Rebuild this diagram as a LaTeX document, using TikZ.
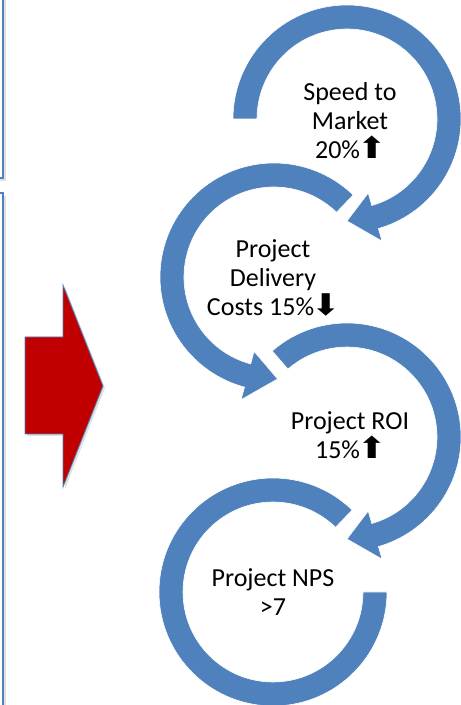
\documentclass[tikz,border=0pt]{standalone}
\usepackage{fontspec}
\setmainfont{Carlito}
\newfontfamily\arrowfont{DejaVu Sans}
\definecolor{cycleblue}{HTML}{4F81BD}
\definecolor{arrowred}{HTML}{C00000}
\newcommand{\trendup}{\kern-2.5pt\scalebox{1.35}[1.15]{\arrowfont ⬆}\kern-2pt}
\newcommand{\trenddown}{\kern-2.5pt\scalebox{1.35}[1.15]{\arrowfont ⬇}\kern-2pt}

\begin{document}
\begin{tikzpicture}[x=1pt, y=1pt,
  ringband/.style = {fill=cycleblue, draw=white, line width=0.6pt},
  ringtext/.style = {align=center, font=\fontsize{26}{29}\selectfont, inner sep=0pt},
  sidebox/.style = {draw=cycleblue, line width=1.6pt, fill=white},
  boxshadow/.style = {fill=black!12, draw=none}]
  \clip (0,0) rectangle (461,705);

  %%% left panels %%%
  % shadows
  \fill[boxshadow] (-50,524) rectangle (6,760);
  \fill[boxshadow] (-50,-50) rectangle (6,509);
  % boxes
  \draw[sidebox] (-50,527) rectangle (3,760);
  \draw[sidebox] (-50,-50) rectangle (3,512);

  %%% red arrow %%%
  \fill[boxshadow] (27,366) -- (65,366) -- (65,418) -- (105,317) -- (65,216) -- (65,269) -- (27,269) -- cycle;
  \draw[fill=arrowred, draw=cycleblue, line width=0.8pt]
    (25,368) -- (63,368) -- (63,420) -- (103,319) -- (63,218) -- (63,271) -- (25,271) -- cycle;

  %%% cycle of arrows %%%
  % ring 1
  \begin{scope}[shift={(347,586)}]
    \path[ringband] (180:114) arc[start angle=180, end angle=-74, radius=114]
      -- (-74:127) -- (-90:102) -- (-74:77) -- (-74:90)
      arc[start angle=-74, end angle=180, radius=90] -- cycle;
  \end{scope}
  % ring 2
  \begin{scope}[shift={(274,428)}]
    \path[ringband] (46:114) arc[start angle=46, end angle=255, radius=114]
      -- (255:127) -- (272:102) -- (255:77) -- (255:90)
      arc[start angle=255, end angle=46, radius=90] -- cycle;
  \end{scope}
  % ring 3
  \begin{scope}[shift={(347,268)}]
    \path[ringband] (131:114) arc[start angle=131, end angle=-74, radius=114]
      -- (-74:127) -- (-90:102) -- (-74:77) -- (-74:90)
      arc[start angle=-74, end angle=131, radius=90] -- cycle;
  \end{scope}
  % ring 4
  \begin{scope}[shift={(273,113)}]
    \path[ringband] (46:114) arc[start angle=46, end angle=360, radius=114]
      -- (0:90) arc[start angle=360, end angle=46, radius=90] -- cycle;
  \end{scope}

  %%% texts %%%
  \node[ringtext] (speed) at (350,584) {Speed to\\Market\\20\%\trendup};
  \node[ringtext] (costs) at (273,427) {Project\\Delivery\\Costs 15\%\trenddown};
  \node[ringtext] (roi) at (350,270) {Project ROI\\15\%\trendup};
  \node[ringtext] (nps) at (273,113) {Project NPS\\>7};
\end{tikzpicture}
\end{document}
